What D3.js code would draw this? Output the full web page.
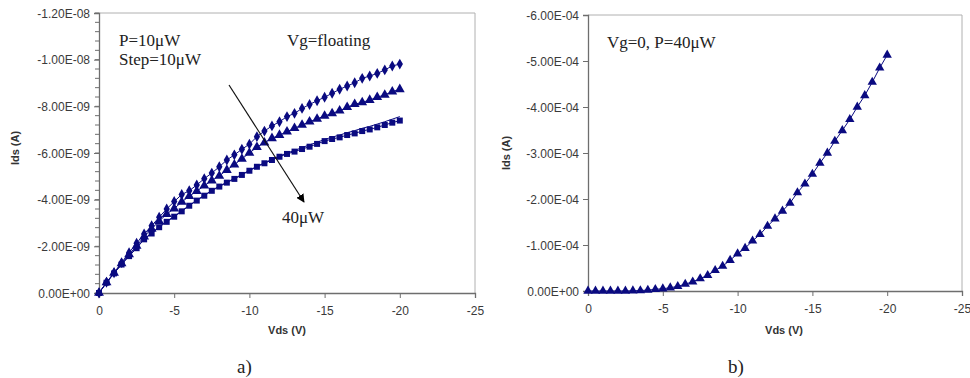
<!DOCTYPE html>
<html><head><meta charset="utf-8">
<script src="https://cdn.jsdelivr.net/npm/d3@7"></script>
<style>body{margin:0;background:#fff}svg{display:block}</style>
</head><body><svg id="c" width="970" height="378"></svg>
<script>
// ---------- data ----------
// panel a) Vds (V)
const vds = [0,-0.5,-1,-1.5,-2,-2.5,-3,-3.5,-4,-4.5,-5,-5.5,-6,-6.5,-7,-7.5,-8,-8.5,-9,-9.5,-10,
             -10.5,-11,-11.5,-12,-12.5,-13,-13.5,-14,-14.5,-15,-15.5,-16,-16.5,-17,-17.5,-18,-18.5,-19,-19.5,-20];
// Ids in units of 1e-9 A (negative)
const idsDiamond = [0,-0.46,-0.87,-1.30,-1.73,-2.13,-2.53,-2.88,-3.25,-3.60,-3.92,-4.22,-4.38,-4.63,-4.90,-5.14,-5.41,-5.70,-5.92,-6.16,-6.38,
                    -6.70,-6.94,-7.16,-7.34,-7.56,-7.70,-7.91,-8.08,-8.24,-8.39,-8.56,-8.73,-8.87,-9.01,-9.20,-9.30,-9.41,-9.56,-9.73,-9.81];
const idsTriangle = [0,-0.45,-0.86,-1.27,-1.65,-2.02,-2.42,-2.75,-3.08,-3.38,-3.62,-3.90,-4.15,-4.36,-4.60,-4.82,-5.02,-5.27,-5.50,-5.75,-6.00,
                    -6.25,-6.44,-6.63,-6.77,-6.91,-7.06,-7.20,-7.34,-7.46,-7.59,-7.70,-7.81,-7.96,-8.09,-8.17,-8.27,-8.39,-8.49,-8.63,-8.73];
const idsLine = [0,-0.44,-0.85,-1.23,-1.60,-1.95,-2.32,-2.57,-2.84,-3.07,-3.29,-3.52,-3.76,-3.98,-4.19,-4.40,-4.58,-4.75,-4.91,-5.08,-5.26,
                    -5.43,-5.58,-5.73,-5.87,-6.00,-6.11,-6.23,-6.35,-6.46,-6.58,-6.68,-6.77,-6.87,-6.96,-7.06,-7.14,-7.24,-7.34,-7.45,-7.56];
const idsSquare = [0,-0.44,-0.84,-1.22,-1.58,-1.92,-2.30,-2.55,-2.82,-3.05,-3.27,-3.50,-3.74,-3.96,-4.17,-4.38,-4.56,-4.73,-4.89,-5.06,-5.24,
                    -5.41,-5.56,-5.70,-5.84,-5.96,-6.06,-6.17,-6.27,-6.39,-6.51,-6.60,-6.67,-6.77,-6.84,-6.94,-7.01,-7.10,-7.20,-7.30,-7.39];
// panel b) Ids in units of 1e-4 A
const idsB = [0,0,0,0,0,0,-0.005,-0.01,-0.02,-0.035,-0.05,-0.07,-0.10,-0.15,-0.20,-0.27,-0.34,-0.45,-0.54,-0.67,-0.81,
              -0.93,-1.09,-1.23,-1.41,-1.57,-1.74,-1.91,-2.14,-2.33,-2.54,-2.78,-3.00,-3.26,-3.49,-3.73,-4.00,-4.25,-4.54,-4.85,-5.13];

const xTicks = [0,-5,-10,-15,-20,-25];
const xTickLabels = ["0","-5","-10","-15","-20","-25"];
const yTicksA = [0,-2,-4,-6,-8,-10,-12];
const yTickLabelsA = ["0.00E+00","-2.00E-09","-4.00E-09","-6.00E-09","-8.00E-09","-1.00E-08","-1.20E-08"];
const yTicksB = [0,-1,-2,-3,-4,-5,-6];
const yTickLabelsB = ["0.00E+00","-1.00E-04","-2.00E-04","-3.00E-04","-4.00E-04","-5.00E-04","-6.00E-04"];

// ---------- drawing ----------
const svg = d3.select("#c");
const NAVY = "#0a0a80";
const AXIS = "#6e6e6e";
const FRAME = "#b0b0b0";

function panel(g, cfg){
  const x = d3.scaleLinear().domain([0,-25]).range([cfg.x0, cfg.x1]);
  const y = d3.scaleLinear().domain([0, cfg.yMax]).range([cfg.y1, cfg.y0]);
  g.append("path").attr("d", `M${cfg.x0},${cfg.y0}H${cfg.x1}V${cfg.y1}`)
    .attr("fill","none").attr("stroke",FRAME).attr("stroke-width",1);
  if (cfg.minor){
    g.append("g").selectAll("line").data(d3.range(0, Math.abs(cfg.yMax)+1e-9, cfg.minor)).join("line")
      .attr("x1", cfg.x0-4).attr("x2", cfg.x0).attr("y1", d=>y(-d)).attr("y2", d=>y(-d))
      .attr("stroke", AXIS);
  }
  const ya = d3.axisLeft(y).tickValues(cfg.yTicks).tickSize(5).tickPadding(4)
      .tickFormat((d,i)=>cfg.yLabels[i]);
  const gy = g.append("g").attr("transform",`translate(${cfg.x0},0)`).call(ya);
  const xa = d3.axisBottom(x).tickValues(xTicks).tickSize(5).tickPadding(8)
      .tickFormat((d,i)=>xTickLabels[i]);
  const gx = g.append("g").attr("transform",`translate(0,${cfg.y1})`).call(xa);
  [gx,gy].forEach(a=>{
    a.select(".domain").attr("stroke",AXIS).attr("stroke-width",1.3);
    a.selectAll(".tick line").attr("stroke",AXIS);
    a.selectAll(".tick text").attr("fill","#3a3a3a").style("font-family","Liberation Sans, Arial, sans-serif").style("font-size","12px");
  });
  gy.selectAll(".tick text").attr("dy","0.35em");
  g.append("text").attr("x", cfg.xlabX).attr("y", 334).attr("text-anchor","middle")
    .style("font-family","Liberation Sans, Arial, sans-serif").style("font-size","11px").style("font-weight","bold")
    .attr("fill","#333").text("Vds (V)");
  g.append("text").attr("transform",`translate(${cfg.ylabX},${cfg.ylabY}) rotate(-90)`).attr("text-anchor","middle")
    .style("font-family","Liberation Sans, Arial, sans-serif").style("font-size","11px").style("font-weight","bold")
    .attr("fill","#333").text("Ids (A)");
  return {x,y};
}

// panel a
const ga = svg.append("g");
const A = panel(ga, {x0:99,x1:475,y0:13,y1:293,yMax:-12,yTicks:yTicksA,yLabels:yTickLabelsA,minor:0.4,ylabX:19,ylabY:148,xlabX:287});
const lineA = d3.line().x((d,i)=>A.x(vds[i])).y(d=>A.y(d));
const seriesA = [
  {v:idsDiamond, sym:d3.symbolDiamond, size:34},
  {v:idsTriangle, sym:d3.symbolTriangle, size:42},
  {v:idsLine, sym:null},
  {v:idsSquare, sym:d3.symbolSquare, size:36}
];
seriesA.forEach(s=>{
  ga.append("path").attr("d", lineA(s.v)).attr("fill","none").attr("stroke",NAVY).attr("stroke-width",1);
  if (s.sym){
    ga.append("g").selectAll("path").data(s.v).join("path")
      .attr("transform",(d,i)=>`translate(${A.x(vds[i])},${A.y(d)})`)
      .attr("d", d3.symbol().type(s.sym).size(s.size)).attr("fill",NAVY);
  }
});
const serif = "Liberation Serif, Times New Roman, serif";
function stxt(g,x,y,t,fs){ g.append("text").attr("x",x).attr("y",y).style("font-family",serif).style("font-size",(fs||17)+"px").attr("fill","#222").text(t); }
stxt(ga,119,46,"P=10μW");
stxt(ga,119,65,"Step=10μW");
stxt(ga,287,46,"Vg=floating");
stxt(ga,282,223,"40μW");
svg.append("defs").append("marker").attr("id","ah").attr("viewBox","0 0 10 10").attr("refX",9).attr("refY",5)
  .attr("markerWidth",7).attr("markerHeight",7).attr("orient","auto")
  .append("path").attr("d","M0,0L10,5L0,10z").attr("fill","#000");
ga.append("line").attr("x1",229).attr("y1",85).attr("x2",304).attr("y2",202)
  .attr("stroke","#111").attr("stroke-width",1.2).attr("marker-end","url(#ah)");
stxt(ga,237,373,"a)",19);

// panel b
const gb = svg.append("g");
const B = panel(gb, {x0:588,x1:962,y0:15,y1:291,yMax:-6,yTicks:yTicksB,yLabels:yTickLabelsB,minor:null,ylabX:510,ylabY:153,xlabX:784});
const lineB = d3.line().x((d,i)=>B.x(vds[i])).y(d=>B.y(d));
gb.append("path").attr("d", lineB(idsB)).attr("fill","none").attr("stroke",NAVY).attr("stroke-width",1);
gb.append("g").selectAll("path").data(idsB).join("path")
  .attr("transform",(d,i)=>`translate(${B.x(vds[i])},${B.y(d)})`)
  .attr("d", d3.symbol().type(d3.symbolTriangle).size(38)).attr("fill",NAVY);
stxt(gb,607,48,"Vg=0, P=40μW");
stxt(gb,728,373,"b)",19);
</script></body></html>
